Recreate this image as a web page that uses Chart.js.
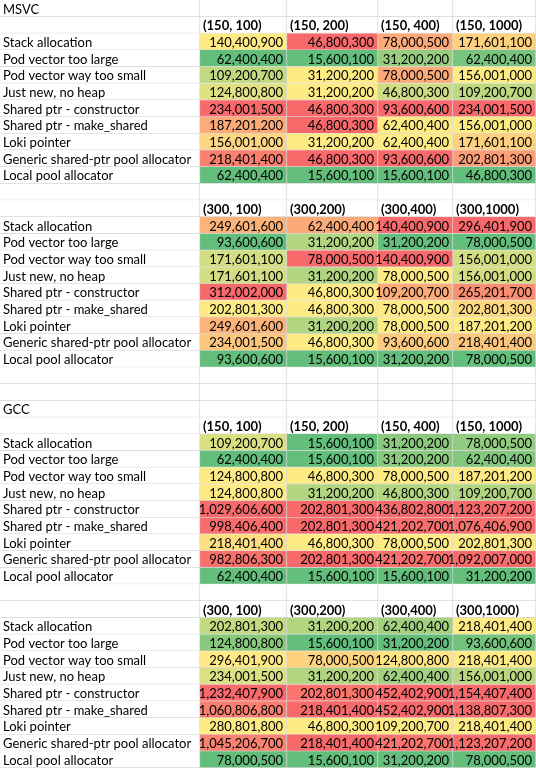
<!DOCTYPE html>
<html><head><meta charset="utf-8">
<script src="https://cdn.jsdelivr.net/npm/chart.js@4/dist/chart.umd.min.js"></script>
<style>html,body{margin:0;padding:0;background:#fff}canvas{display:block}</style>
</head><body><canvas id="c" width="536" height="768"></canvas>
<script>
const rowLabels = ["Stack allocation","Pod vector too large","Pod vector way too small","Just new, no heap","Shared ptr - constructor","Shared ptr - make_shared","Loki pointer","Generic shared-ptr pool allocator","Local pool allocator"];
const headers150 = ["(150, 100)","(150, 200)","(150, 400)","(150, 1000)"];
const headers300 = ["(300, 100)","(300,200)","(300,400)","(300,1000)"];
const msvc150 = [
[140400900,46800300,78000500,171601100],[62400400,15600100,31200200,62400400],[109200700,31200200,78000500,156001000],
[124800800,31200200,46800300,109200700],[234001500,46800300,93600600,234001500],[187201200,46800300,62400400,156001000],
[156001000,31200200,62400400,171601100],[218401400,46800300,93600600,202801300],[62400400,15600100,15600100,46800300]];
const msvc300 = [
[249601600,62400400,140400900,296401900],[93600600,31200200,31200200,78000500],[171601100,78000500,140400900,156001000],
[171601100,31200200,78000500,156001000],[312002000,46800300,109200700,265201700],[202801300,46800300,78000500,202801300],
[249601600,31200200,78000500,187201200],[234001500,46800300,93600600,218401400],[93600600,15600100,31200200,78000500]];
const gcc150 = [
[109200700,15600100,31200200,78000500],[62400400,15600100,31200200,62400400],[124800800,46800300,78000500,187201200],
[124800800,31200200,46800300,109200700],[1029606600,202801300,436802800,1123207200],[998406400,202801300,421202700,1076406900],
[218401400,46800300,78000500,202801300],[982806300,202801300,421202700,1092007000],[62400400,15600100,15600100,31200200]];
const gcc300 = [
[202801300,31200200,62400400,218401400],[124800800,15600100,31200200,93600600],[296401900,78000500,124800800,218401400],
[234001500,31200200,62400400,156001000],[1232407900,202801300,452402900,1154407400],[1060806800,218401400,452402900,1138807300],
[280801800,46800300,109200700,218401400],[1045206700,218401400,421202700,1123207200],[78000500,15600100,31200200,78000500]];

const edges = [0,200,287,378,453,536];
const G=[99,190,123],Y=[255,235,132],R=[248,105,107];
function mix(a,b,t){return 'rgb('+a.map((v,i)=>Math.round(v+(b[i]-v)*t)).join(',')+')';}
function scaleColors(tbl){
  const out = tbl.map(r=>r.map(()=>'#fff'));
  for(let c=0;c<4;c++){
    const col=tbl.map(r=>r[c]); const s=[...col].sort((a,b)=>a-b);
    const mn=s[0],mx=s[s.length-1],md=s[4];
    col.forEach((v,r)=>{
      out[r][c] = v<=md ? mix(G,Y,md===mn?1:(v-mn)/(md-mn)) : mix(Y,R,(v-md)/(mx-md));
    });
  }
  return out;
}
const rows=[];
function blank(label){rows.push({cells:[label||"","","","",""],colors:Array(5).fill('#fff'),bold:false,right:false});}
function table(hdr,tbl){
  rows.push({cells:["",...hdr],colors:Array(5).fill('#fff'),bold:true,right:false});
  const cols=scaleColors(tbl);
  tbl.forEach((r,i)=>rows.push({cells:[rowLabels[i],...r.map(v=>v.toLocaleString('en-US'))],colors:['#fff',...cols[i]],bold:false,right:true}));
}
blank("MSVC"); table(headers150,msvc150); blank(); table(headers300,msvc300); blank(); blank();
blank("GCC"); table(headers150,gcc150); blank(); table(headers300,gcc300);

const datasets=[0,1,2,3,4].map(c=>({
  data: rows.map(()=>[edges[c],edges[c+1]]),
  backgroundColor: rows.map(r=>r.colors[c]),
  borderColor:'#d9d9d9', borderWidth:{right:1,bottom:1,top:0,left:0}, borderSkipped:false,
  barPercentage:1, categoryPercentage:1, grouped:false
}));
const textPlugin={id:'txt',afterDatasetsDraw(chart){
  const ctx=chart.ctx;
  chart.data.datasets.forEach((ds,c)=>{
    chart.getDatasetMeta(c).data.forEach((el,i)=>{
      const r=rows[i]; const t=r.cells[c]; if(!t)return;
      const x0=Math.min(el.x,el.base), x1=Math.max(el.x,el.base);
      ctx.save(); ctx.fillStyle='#000';
      ctx.font=(r.bold?'bold ':'')+'13px Lato';
      ctx.textBaseline='middle';
      if(c>0 && r.right){ctx.textAlign='right';ctx.fillText(t,x1-4,el.y+1);}
      else{ctx.textAlign='left';ctx.fillText(t,x0+3,el.y+1);}
      ctx.restore();
    });
  });
}};
new Chart(document.getElementById('c'),{
  type:'bar',
  data:{labels:rows.map((_,i)=>String(i)),datasets},
  options:{indexAxis:'y',responsive:false,animation:false,
    layout:{padding:0},
    plugins:{legend:{display:false},tooltip:{enabled:false}},
    scales:{x:{type:'linear',min:0,max:536,display:false},y:{display:false}}},
  plugins:[textPlugin]
});
</script></body></html>
